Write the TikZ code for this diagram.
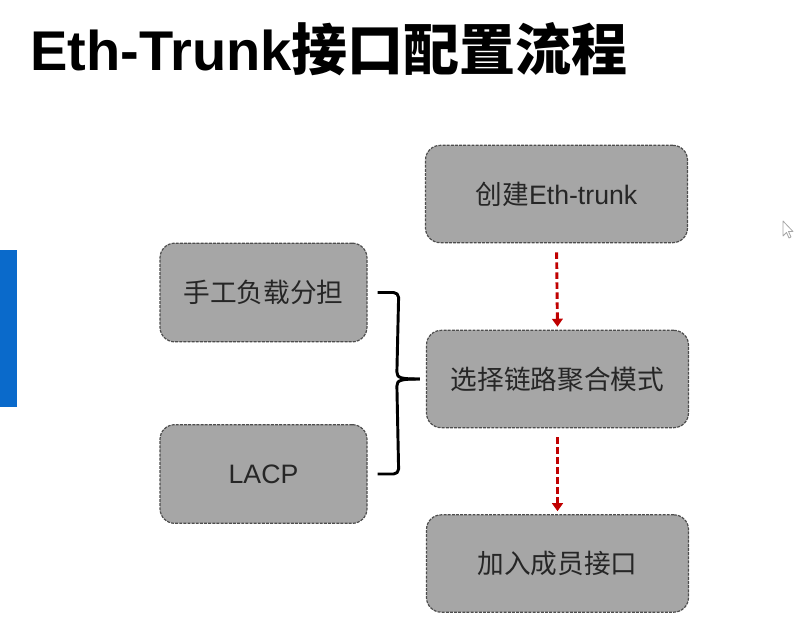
\documentclass[tikz,border=0pt]{standalone}
\usepackage{fontspec}
\setmainfont{Liberation Sans}
\newfontfamily\cjk{Noto Sans CJK SC}
\usetikzlibrary{arrows.meta,calc}
\definecolor{boxfill}{HTML}{A6A6A6}
\definecolor{boxline}{HTML}{4D4D4D}
\definecolor{txt}{HTML}{262626}
\definecolor{flowred}{HTML}{C00000}
\definecolor{barblue}{HTML}{0A6ACB}
\tikzset{
  stepbox/.style={draw=boxline, fill=boxfill, line width=0.9pt,
    dash pattern=on 2.2pt off 0.9pt, rounded corners=11pt,
    text=txt, font=\fontsize{20pt}{24pt}\selectfont, inner sep=0pt},
  rightbox/.style={stepbox, minimum width=196.5pt, minimum height=73pt},
  leftbox/.style={stepbox, minimum width=155.25pt, minimum height=74pt},
  flowarrow/.style={draw=flowred, line width=2.2pt, dash pattern=on 5pt off 2.5pt,
    -{Triangle[width=8pt,length=6pt]}},
  bracket/.style={draw=black, line width=2.2pt, line join=round}
}
\begin{document}
\begin{tikzpicture}[x=0.75pt, y=-0.75pt]
\useasboundingbox (0,0) rectangle (794,626);
% title
\node[anchor=base west, inner sep=0pt, font=\fontsize{42pt}{46pt}\selectfont\bfseries] (title) at (30,70)
  {Eth-Trunk{\cjk\bfseries 接口配置流程}};
% blue side bar
\fill[barblue] (0,250) rectangle (17,407);
% boxes
\node[rightbox] (create) at (556.5,194) {{\cjk 创建}Eth-trunk};
\node[rightbox] (mode) at (557.5,379) {\cjk 选择链路聚合模式};
\node[rightbox] (member) at (557.5,563.5) {\cjk 加入成员接口};
\node[leftbox] (manual) at (263.5,292.5) {\cjk 手工负载分担};
\node[leftbox] (lacp) at (263.5,474) {LACP};
% arrows
\draw[flowarrow, shorten <=6.75pt, shorten >=2.25pt] (create.south) -- (mode.north);
\draw[flowarrow, shorten <=6.75pt, shorten >=2.25pt] (mode.south) -- (member.north);
% bracket
\coordinate (bt) at ($(manual.east)+(10,0)$);
\coordinate (bb) at ($(lacp.east)+(10,0)$);
\coordinate (tip) at ($(mode.west)+(-6,0)$);
\draw[bracket] (bt) -- ++(16,0) to[out=0,in=90] ++(5,5) -- ($(tip)+(-23,-7)$)
  .. controls ($(tip)+(-23,-1)$) and ($(tip)+(-19,0)$) .. (tip);
\draw[bracket] (bb) -- ++(16,0) to[out=0,in=-90] ++(5,-5) -- ($(tip)+(-23,7)$)
  .. controls ($(tip)+(-23,1)$) and ($(tip)+(-19,0)$) .. (tip);
% mouse cursor
\draw[gray!70, fill=white, line width=0.6pt, line join=round]
  (783,221) -- (783,236) -- (786.5,232.5) -- (789,238) -- (791,237) -- (788.5,231.5) -- (793,231.5) -- cycle;
\end{tikzpicture}
\end{document}
